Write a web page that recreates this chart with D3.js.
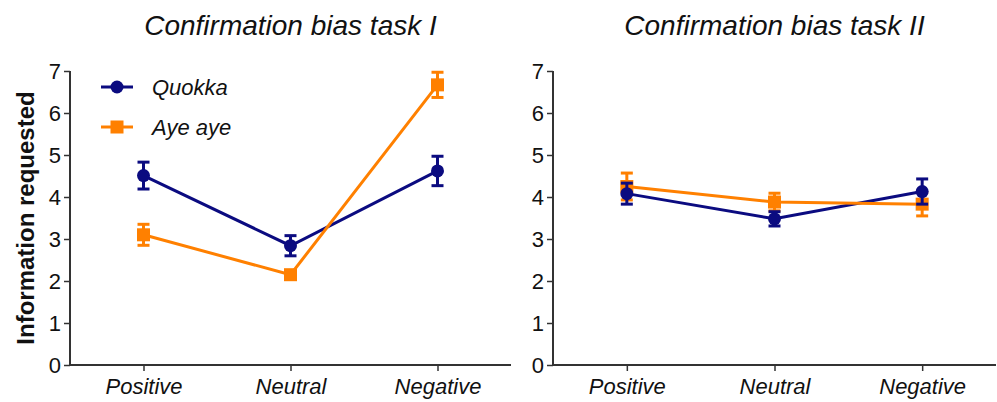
<!DOCTYPE html>
<html><head><meta charset="utf-8">
<script src="https://cdn.jsdelivr.net/npm/d3@7"></script>
<style>
body{margin:0;background:#fff}
text{font-family:"Liberation Sans",Arial,Helvetica,sans-serif;fill:#111}
</style></head>
<body><svg id="c" width="997" height="402"></svg>
<script>
const categories = ["Positive","Neutral","Negative"];
const seriesNames = ["Quokka","Aye aye"];
const panelTitles = ["Confirmation bias task I","Confirmation bias task II"];
const yTicks = [0,1,2,3,4,5,6,7];
// task I
const quokka1 = [4.51, 2.84, 4.62];
const quokka1Err = [0.32, 0.24, 0.35];
const aye1 = [3.10, 2.15, 6.67];
const aye1Err = [0.25, 0.10, 0.30];
// task II
const quokka2 = [4.08, 3.48, 4.13];
const quokka2Err = [0.25, 0.17, 0.30];
const aye2 = [4.25, 3.88, 3.83];
const aye2Err = [0.32, 0.21, 0.28];

const colors = ["#0b0b80", "#ff8000"];
const svg = d3.select("#c");
const y = d3.scaleLinear().domain([0,7]).range([365,71]);

const panels = [
  {x0:70, x1:511, title:panelTitles[0], series:[{v:quokka1,e:quokka1Err},{v:aye1,e:aye1Err}]},
  {x0:553, x1:996, title:panelTitles[1], series:[{v:quokka2,e:quokka2Err},{v:aye2,e:aye2Err}]}
];

panels.forEach((p,pi)=>{
  const x = d3.scalePoint().domain(categories).range([p.x0,p.x1]).padding(0.5);
  const g = svg.append("g");
  // axes
  const ya = g.append("g").attr("transform",`translate(${p.x0},0)`)
    .call(d3.axisLeft(y).tickValues(yTicks).tickSize(6).tickPadding(3).tickFormat(d3.format("d")));
  const xa = g.append("g").attr("transform",`translate(0,${y(0)})`)
    .call(d3.axisBottom(x).tickSize(6).tickPadding(7));
  [ya,xa].forEach(a=>{
    a.selectAll("path").attr("stroke","#333").attr("stroke-width",2);
    a.selectAll("line").attr("stroke","#333").attr("stroke-width",1.5);
    a.selectAll("text").style("font-size","22px").attr("fill","#111");
  });
  ya.select(".domain").attr("d",`M0,${y(7)}V${y(0)}`);
  xa.select(".domain").attr("d",`M${p.x0},0H${p.x1}`);
  xa.selectAll("text").style("font-style","italic").style("font-size","22px");
  ya.selectAll("text").attr("dy","0.36em");

  g.append("text").attr("x",x("Neutral")).attr("y",35).attr("text-anchor","middle")
    .style("font-size","28px").style("font-style","italic").text(p.title);

  const line = d3.line().x((d,i)=>x(categories[i])).y(d=>y(d));
  p.series.forEach((s,si)=>{
    g.append("path").datum(s.v).attr("d",line).attr("fill","none")
      .attr("stroke",colors[si]).attr("stroke-width",3);
  });
  [1,0].forEach(si=>{
    const s = p.series[si];
    const mg = g.append("g").attr("stroke",colors[si]).attr("fill",colors[si]);
    s.v.forEach((v,i)=>{
      const cx = x(categories[i]);
      const t = y(v+s.e[i]), b = y(v-s.e[i]);
      mg.append("line").attr("x1",cx).attr("x2",cx).attr("y1",t).attr("y2",b).attr("stroke-width",3);
      mg.append("line").attr("x1",cx-6).attr("x2",cx+6).attr("y1",t).attr("y2",t).attr("stroke-width",3);
      mg.append("line").attr("x1",cx-6).attr("x2",cx+6).attr("y1",b).attr("y2",b).attr("stroke-width",3);
      if(si===0){
        mg.append("circle").attr("cx",cx).attr("cy",y(v)).attr("r",6.5).attr("stroke","none");
      } else {
        mg.append("rect").attr("x",cx-6.5).attr("y",y(v)-6.5).attr("width",13).attr("height",13).attr("stroke","none");
      }
    });
  });
});

svg.append("text").attr("transform",`translate(34,${y(3.5)}) rotate(-90)`)
  .attr("text-anchor","middle").style("font-size","24px").style("font-weight","bold").text("Information requested");

const lg = svg.append("g");
seriesNames.forEach((n,i)=>{
  const ly = 87 + i*40;
  lg.append("line").attr("x1",101).attr("x2",133).attr("y1",ly).attr("y2",ly)
    .attr("stroke",colors[i]).attr("stroke-width",3);
  if(i===0) lg.append("circle").attr("cx",117).attr("cy",ly).attr("r",6.5).attr("fill",colors[i]);
  else lg.append("rect").attr("x",117-6.5).attr("y",ly-6.5).attr("width",13).attr("height",13).attr("fill",colors[i]);
  lg.append("text").attr("x",152).attr("y",ly+7.5).style("font-size","22px").style("font-style","italic").text(n);
});
</script></body></html>
